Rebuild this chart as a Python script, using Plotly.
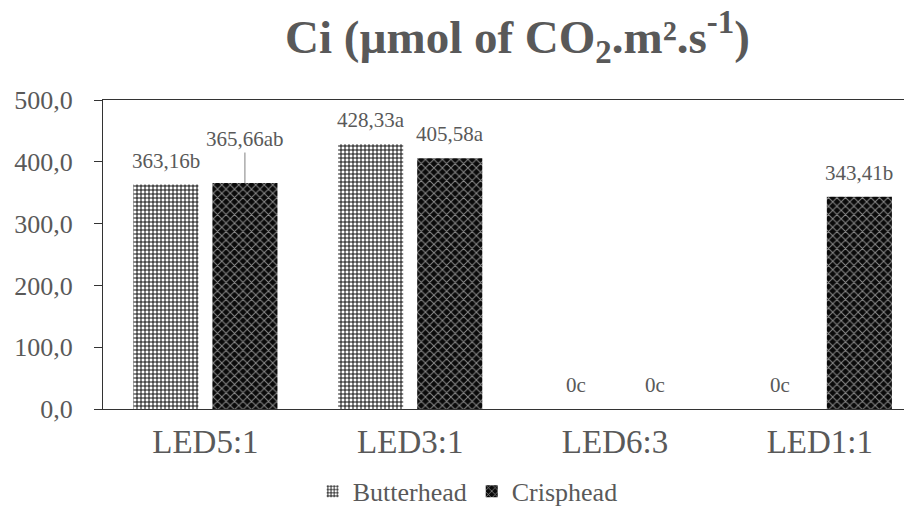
import plotly.graph_objects as go

categories = ["LED5:1", "LED3:1", "LED6:3", "LED1:1"]
butterhead = [363.16, 428.33, 0, 0]
crisphead = [365.66, 405.58, 0, 343.41]
butter_letters = ["b", "a", "c", "c"]
crisp_letters = ["ab", "a", "c", "b"]
y_ticks = [0, 100, 200, 300, 400, 500]

GRAY = "#595959"
FONT = "Liberation Serif"

def fmt(v, letter):
    if v == 0:
        return "0" + letter
    return f"{v:.2f}".replace(".", ",") + letter

fig = go.Figure()
fig.add_trace(go.Bar(
    name="Butterhead", x=categories, y=butterhead,
    marker=dict(color="white", line=dict(width=0),
                pattern=dict(shape="+", fgcolor="#111111", bgcolor="#ffffff",
                             size=4, solidity=0.45, fillmode="replace")),
))
fig.add_trace(go.Bar(
    name="Crisphead", x=categories, y=crisphead,
    marker=dict(color="black", line=dict(width=0),
                pattern=dict(shape="x", fgcolor="#8a8a8a", bgcolor="#0a0a0a",
                             size=6, solidity=0.3, fillmode="replace")),
))

annotations = []
for series, letters, shift in [(butterhead, butter_letters, -39.5), (crisphead, crisp_letters, 39.5)]:
    for c, v, l in zip(categories, series, letters):
        a = dict(x=c, y=v, xref="x", yref="y", text=fmt(v, l), xshift=shift,
                 font=dict(family=FONT, size=21, color=GRAY))
        if c == "LED5:1" and series is crisphead:
            a.update(showarrow=True, ax=0, ay=-44, arrowhead=0, arrowwidth=1,
                     arrowcolor="#808080", standoff=0)
        else:
            a.update(showarrow=False, yshift=24)
        annotations.append(a)

annotations.append(dict(
    text="<b>Ci (µmol of CO<sub>2</sub>.m².s<sup>-1</sup>)</b>",
    xref="paper", yref="paper", x=0.512, y=1.0, yshift=63, showarrow=False,
    xanchor="center", yanchor="middle",
    font=dict(family=FONT, size=47, color=GRAY)))

fig.update_layout(
    width=912, height=513,
    margin=dict(l=95, r=8, t=92, b=112),
    paper_bgcolor="white", plot_bgcolor="white",
    separators=",.",
    barmode="group", bargap=0.228, bargroupgap=0.177,
    showlegend=True,
    legend=dict(orientation="h", xref="container", yref="container",
                x=0.504, xanchor="center", y=0.058, yanchor="middle",
                font=dict(family=FONT, size=26, color=GRAY), itemwidth=30,
                itemsizing="constant", tracegroupgap=0),
    annotations=annotations,
    font=dict(family=FONT, color=GRAY),
)
fig.update_yaxes(range=[0, 500], tickvals=y_ticks, tickformat=".1f", automargin=False,
                 showgrid=False, showline=True, linecolor="#333333", linewidth=1,
                 mirror=False, ticks="outside", ticklen=8, tickcolor="#333333",
                 ticklabelstandoff=16,
                 tickfont=dict(family=FONT, size=26, color=GRAY), zeroline=False)
fig.update_xaxes(range=[-0.5, 3.45], showline=True, linecolor="#333333", linewidth=1,
                 mirror=True, ticks="", ticklabelstandoff=3, automargin=False,
                 tickfont=dict(family=FONT, size=33, color=GRAY))

fig.write_html("out.html")
